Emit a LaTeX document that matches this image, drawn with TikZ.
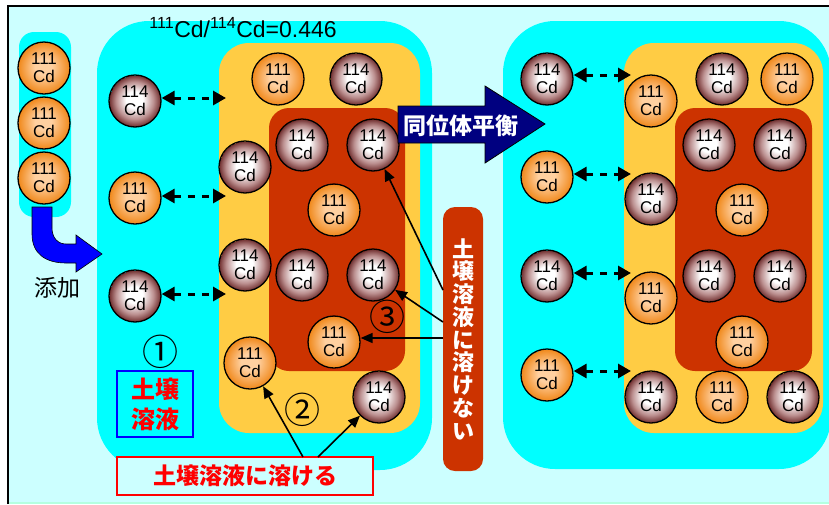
\documentclass[tikz,border=0pt]{standalone}
\usepackage{fontspec}
\setmainfont{Liberation Sans}
\newfontfamily\jp{Noto Sans CJK JP}
\usetikzlibrary{arrows.meta,calc}
\definecolor{paleaqua}{HTML}{CCFFFF}
\definecolor{aqua}{HTML}{00FFFF}
\definecolor{soilyellow}{HTML}{FFCC44}
\definecolor{rust}{HTML}{CC3300}
\definecolor{deepnavy}{HTML}{000080}
\definecolor{pureblue}{HTML}{0000FF}
\definecolor{ruby}{HTML}{FF0000}
\definecolor{maroonedge}{HTML}{6E2C2C}
\definecolor{maroonmid}{HTML}{BC9090}
\definecolor{orangeedge}{HTML}{F0881A}
\definecolor{orangecore}{HTML}{FFD0A0}
% radial fills for the two isotopes
\pgfdeclareradialshading{ball114}{\pgfpoint{-1bp}{2bp}}{%
  color(0bp)=(white); color(8bp)=(white); color(18bp)=(maroonmid); color(25bp)=(maroonedge)}
\pgfdeclareradialshading{ball111}{\pgfpoint{-1bp}{2bp}}{%
  color(0bp)=(orangecore); color(8bp)=(orangecore); color(25bp)=(orangeedge)}
\tikzset{
  cdball/.style={circle, draw=black, line width=1.3pt, minimum size=52pt,
    inner sep=0pt, align=center, font=\fontsize{17}{18}\selectfont},
  iso111/.style={cdball, shading=ball111},
  iso114/.style={cdball, shading=ball114},
  exch/.style={{Triangle[length=13pt,width=14pt]}-{Triangle[length=13pt,width=14pt]},
    line width=3pt, dash pattern=on 7pt off 7pt},
  pointer/.style={-{Triangle[length=12pt,width=10pt]}, line width=1.6pt},
  jpbold/.style={font=\jp\bfseries\fontsize{24}{30}\selectfont, text=ruby, align=center},
  circnum/.style={font=\jp\fontsize{36}{36}\selectfont, inner sep=0pt}
}
\begin{document}
\begin{tikzpicture}[x=1pt,y=-1pt]
\useasboundingbox (0,0) rectangle (829,504);
% page and frame
\fill[white] (0,0) rectangle (829,504);
\fill[paleaqua] (8,6) rectangle (829,502);
\fill[green!12!paleaqua] (8,502) rectangle (829,504);
\draw[line width=1.5pt] (8,504) -- (8,6) -- (829,6);

% added spike column
\fill[aqua, rounded corners=15] (19,32) rectangle (71,217);

% first system: solution / exchangeable / non-exchangeable pools
\fill[aqua, rounded corners=52] (97,21) rectangle (432,470);
\fill[soilyellow, rounded corners=30] (219,43) rectangle (420,433);
\fill[rust, rounded corners=20] (269,108) rectangle (405,371);

% second system, after equilibration
\fill[aqua, rounded corners=52] (503,21) rectangle (831,469);
\fill[soilyellow, rounded corners=30] (624,43) rectangle (823,433);
\fill[rust, rounded corners=20] (675,108) rectangle (812,371);

% title ratio
\node[font=\fontsize{23}{23}\selectfont] (ratio) at (243,28)
  {\textsuperscript{111}Cd/\textsuperscript{114}Cd=0.446};

% spike atoms
\node[iso111] (s1) at (44,68) {111\\Cd};
\node[iso111] (s2) at (44,123) {111\\Cd};
\node[iso111] (s3) at (44,178) {111\\Cd};

% bent addition arrow
\filldraw[fill=pureblue, draw=black, line width=0.6pt]
  (32,207) -- (32,234) .. controls (32,254) and (46,263) .. (66,263)
  -- (76,263) -- (76,272) -- (102,254) -- (76,235) -- (76,244)
  -- (66,244) .. controls (58,244) and (52,238) .. (52,228) -- (52,207) -- cycle;
\node[font=\jp\fontsize{23}{23}\selectfont] (addlbl) at (57,288) {添加};

% first system atoms: solution
\node[iso114] (a1) at (135,101) {114\\Cd};
\node[iso111] (a2) at (135,198) {111\\Cd};
\node[iso114] (a3) at (135,296) {114\\Cd};
% first system atoms: exchangeable
\node[iso111] (b1) at (278,79) {111\\Cd};
\node[iso114] (b2) at (356,79) {114\\Cd};
\node[iso114] (b3) at (245,167) {114\\Cd};
\node[iso114] (b4) at (245,265) {114\\Cd};
\node[iso111] (b5) at (250,363) {111\\Cd};
\node[iso114] (b6) at (379,397) {114\\Cd};
% first system atoms: fixed
\node[iso114] (c1) at (302,145) {114\\Cd};
\node[iso114] (c2) at (373,145) {114\\Cd};
\node[iso111] (c3) at (334,210) {111\\Cd};
\node[iso114] (c4) at (302,275) {114\\Cd};
\node[iso114] (c5) at (373,275) {114\\Cd};
\node[iso111] (c6) at (334,342) {111\\Cd};

% exchange arrows, first system
\coordinate (ea1) at (226,98);
\coordinate (ea2) at (226,196);
\coordinate (ea3) at (226,294);
\draw[exch] (a1.east |- ea1) -- (ea1);
\draw[exch] (a2.east |- ea2) -- (ea2);
\draw[exch] (a3.east |- ea3) -- (ea3);

% second system atoms: solution
\node[iso114] (d1) at (547,79) {114\\Cd};
\node[iso111] (d2) at (547,177) {111\\Cd};
\node[iso114] (d3) at (547,276) {114\\Cd};
\node[iso111] (d4) at (547,375) {111\\Cd};
% second system atoms: exchangeable
\node[iso111] (e1) at (651,101) {111\\Cd};
\node[iso114] (e2) at (722,79) {114\\Cd};
\node[iso111] (e3) at (787,79) {111\\Cd};
\node[iso114] (e4) at (651,199) {114\\Cd};
\node[iso111] (e5) at (651,298) {111\\Cd};
\node[iso114] (e6) at (651,397) {114\\Cd};
\node[iso111] (e7) at (722,397) {111\\Cd};
\node[iso114] (e8) at (793,397) {114\\Cd};
% second system atoms: fixed
\node[iso114] (f1) at (709,145) {114\\Cd};
\node[iso114] (f2) at (780,145) {114\\Cd};
\node[iso111] (f3) at (742,210) {111\\Cd};
\node[iso114] (f4) at (709,276) {114\\Cd};
\node[iso114] (f5) at (780,276) {114\\Cd};
\node[iso111] (f6) at (742,342) {111\\Cd};

% exchange arrows, second system
\coordinate (eb1) at (631,75);
\coordinate (eb2) at (631,174);
\coordinate (eb3) at (631,273);
\coordinate (eb4) at (631,371);
\draw[exch] (d1.east |- eb1) -- (eb1);
\draw[exch] (d2.east |- eb2) -- (eb2);
\draw[exch] (d3.east |- eb3) -- (eb3);
\draw[exch] (d4.east |- eb4) -- (eb4);

% isotope equilibration arrow
\filldraw[fill=deepnavy, draw=black, line width=0.8pt]
  (398,106) -- (485,106) -- (485,86) -- (545,124) -- (485,163) -- (485,143)
  -- (398,143) -- cycle;
\node[font=\jp\bfseries\fontsize{23}{23}\selectfont, text=white] (eqlbl) at (461,126) {同位体平衡};

% non-soluble label
\node[fill=rust, rounded corners=12, minimum width=40pt, minimum height=264pt,
  inner sep=0pt, text=white, align=center,
  font=\jp\bfseries\fontsize{22}{22.75}\selectfont] (fixlbl) at (463,339)
  {土\\壌\\溶\\液\\に\\溶\\け\\な\\い};
\coordinate (n1) at (443,290);
\coordinate (n2) at (443,322);
\coordinate (n3) at (443,338);
\draw[pointer] (n1) -- (c2);
\draw[pointer] (n2) -- (c5);
\draw[pointer] (n3) -- (c6.east |- n3);

% pool numbers
\node[circnum] (p1) at (160,352) {①};
\node[circnum] (p2) at (302,410) {②};
\node[circnum] (p3) at (387,317) {③};

% soil solution label
\node[draw=pureblue, line width=1.6pt, minimum width=76pt, minimum height=66pt,
  inner sep=0pt, jpbold] (sollbl) at (155,404) {土壌\\溶液};

% soluble label
\node[draw=ruby, fill=paleaqua, line width=1.6pt, minimum width=256pt, minimum height=38pt,
  inner sep=0pt, jpbold, font=\jp\bfseries\fontsize{23}{23}\selectfont] (dislbl) at (245,476) {土壌溶液に溶ける};
\coordinate (m1) at (303,457);
\coordinate (m2) at (318,457);
\draw[pointer] (m1) -- (b5);
\draw[pointer] (m2) -- (b6);
\end{tikzpicture}
\end{document}
